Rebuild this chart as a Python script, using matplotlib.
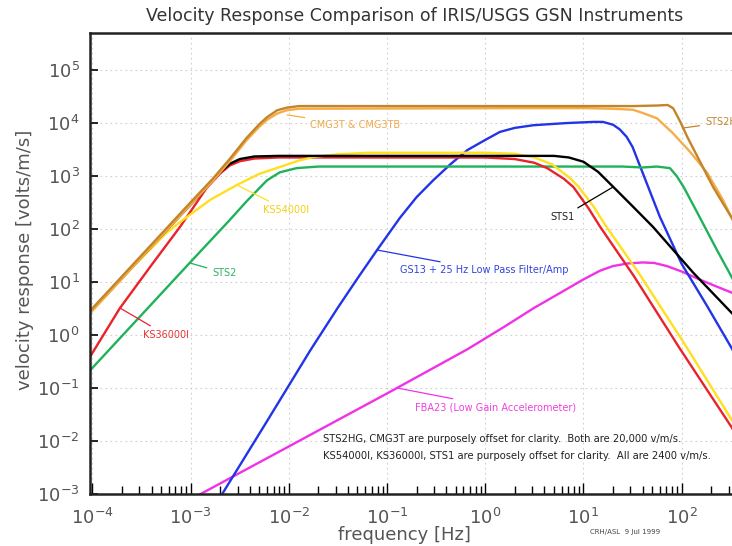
import matplotlib
matplotlib.use("Agg")
import matplotlib.pyplot as plt
from matplotlib.ticker import FixedLocator, NullFormatter

# responses [Hz] -> [volts/m/s]
sts2hg_f = [9.3e-5, 1e-4, 1e-3, 1.7e-3, 2.5e-3, 3.7e-3, 5.0e-3, 6.0e-3, 7.6e-3, 9.5e-3, 0.0126,
            32, 56, 72, 82, 97, 114, 155, 209, 324, 363]
sts2hg_v = [2.75, 3.2, 320, 910, 2100, 5200, 9500, 12900, 17400, 19500, 20900,
            20900, 21400, 21900, 19000, 10500, 5500, 1820, 620, 162, 112]

cmg3t_f = [9.3e-5, 1e-4, 1e-3, 1.7e-3, 2.5e-3, 3.7e-3, 5.0e-3, 6.0e-3, 7.6e-3, 9.5e-3, 0.0126,
           3.2, 10, 20, 32, 40, 56, 81, 123, 182, 263, 324, 363]
cmg3t_v = [2.5, 2.9, 290, 830, 1900, 4700, 8500, 11500, 15100, 17400, 18600,
           19100, 19100, 18600, 17800, 15500, 12300, 6500, 2800, 1150, 355, 162, 105]

sts1_f = [9.3e-5, 1e-4, 1e-3, 1.26e-3, 1.58e-3, 2.0e-3, 2.5e-3, 3.16e-3, 4.47e-3, 7.9e-3,
          5.0, 7.1, 10, 14.1, 20, 31.6, 51, 132, 324, 363]
sts1_v = [2.6, 3.0, 290, 457, 741, 1175, 1700, 2090, 2340, 2400,
          2400, 2240, 1860, 1200, 630, 270, 110, 14.8, 2.6, 2.1]

ks36_f = [9.3e-5, 1.9e-4, 4.0e-4, 7.8e-4, 1.45e-3, 2.0e-3, 2.5e-3, 3.16e-3, 4.47e-3, 7.9e-3,
          1.0, 2.0, 3.16, 4.27, 6.3, 7.9, 11.2, 14.8, 32.4, 95.5, 324, 363]
ks36_v = [0.37, 3.2, 21, 110, 590, 1120, 1580, 1900, 2140, 2240,
          2240, 2090, 1780, 1410, 890, 620, 250, 110, 13.2, 0.56, 0.018, 0.0126]

ks54_f = [9.3e-5, 1e-4, 2.5e-4, 4.0e-4, 5.6e-4, 7.8e-4, 1.58e-3, 2.95e-3, 5.0e-3, 8.1e-3, 0.0126,
          0.0178, 0.0316, 0.063, 1.0, 2.0, 3.16, 4.8, 7.1, 8.9, 12.6, 16.6, 36.3, 107, 324, 363]
ks54_v = [2.5, 2.9, 18.2, 43.7, 83, 135, 355, 676, 1100, 1480, 1950,
          2290, 2570, 2750, 2750, 2630, 2240, 1660, 955, 630, 270, 120, 15.1, 0.68, 0.025, 0.018]

sts2_f = [9.3e-5, 1e-4, 1e-3, 2.5e-3, 3.7e-3, 5.0e-3, 6.0e-3, 8.1e-3, 0.012, 0.02,
          25, 40, 56, 76, 89, 105, 145, 229, 324, 363]
sts2_v = [0.21, 0.24, 24, 148, 331, 589, 832, 1175, 1410, 1510,
          1510, 1450, 1510, 1410, 1000, 617, 200, 40, 12.3, 8.3]

gs13_f = [2.0e-3, 6.3e-3, 0.0166, 0.0316, 0.05, 0.079, 0.135, 0.2, 0.295, 0.447, 0.66, 1.0, 1.41,
          2.0, 3.1, 6.8, 12.6, 15.8, 20, 23.4, 27.5, 31.6, 38, 60, 100, 182, 324, 363]
gs13_v = [8.7e-4, 0.0275, 0.52, 3.3, 11.7, 40, 162, 400, 830, 1700, 3100, 4800, 6800,
          8100, 9100, 10000, 10500, 10500, 9300, 7600, 5500, 3550, 1480, 170, 22, 3.5, 0.56, 0.38]

fba23_f = [1.2e-3, 0.01, 0.1, 0.66, 1.58, 3.1, 6.8, 10, 14.8, 20, 28.2, 40, 52.5, 70.8, 100,
           155, 224, 324, 363]
fba23_v = [9.5e-4, 7.9e-3, 0.079, 0.54, 1.45, 3.2, 7.4, 11.2, 16.4, 20, 22.4, 23.4, 22.9, 20, 15.8,
           11, 8.3, 6.3, 5.75]

x_ticks = [1e-4, 1e-3, 1e-2, 1e-1, 1e0, 1e1, 1e2]
y_ticks = [1e-3, 1e-2, 1e-1, 1e0, 1e1, 1e2, 1e3, 1e4, 1e5]

# curve: (freqs, values, line colour, text colour, label, text pos, point on curve)
curves = [
    (fba23_f, fba23_v, "#f032e6", "#f040e0", "FBA23 (Low Gain Accelerometer)", (0.193, 0.0438), (0.127, 0.1)),
    (gs13_f, gs13_v, "#2233e8", "#3344dd", "GS13 + 25 Hz Low Pass Filter/Amp", (0.136, 16.8), (0.0792, 40.2)),
    (sts2_f, sts2_v, "#1fb25a", "#30b060", "STS2", (1.66e-3, 14.8), (9.9e-4, 22.8)),
    (ks36_f, ks36_v, "#e8232a", "#e03535", "KS36000I", (3.28e-4, 1.0), (1.91e-4, 3.23)),
    (ks54_f, ks54_v, "#ffe020", "#f0d010", "KS54000I", (5.47e-3, 228), (2.98e-3, 676)),
    (sts1_f, sts1_v, "#000000", "#222222", "STS1", (4.58, 168), (20.0, 620)),
    (cmg3t_f, cmg3t_v, "#f5ad4a", "#f0a848", "CMG3T & CMG3TB", (0.0165, 9160), (0.0096, 14200)),
    (sts2hg_f, sts2hg_v, "#c4842a", "#c08830", "STS2HG", (173, 10400), (103, 8050)),
]

W, H = 732, 546
fig = plt.figure(figsize=(W / 100, H / 100), dpi=100)
# axes run past the right edge, as in the cropped original
ax = fig.add_axes([89.5 / W, 52 / H, 693.3 / W, 461 / H])
ax.set_xscale("log")
ax.set_yscale("log")
ax.set_xlim(10 ** -4.03, 10 ** 3.03)
ax.set_ylim(1e-3, 5e5)

for f, v, lc, tc, name, tpos, pt in curves:
    ax.plot(f, v, color=lc, lw=1.7, solid_joinstyle="round")
    ax.annotate(name, xy=pt, xytext=tpos, color=tc, fontsize=7, ha="left", va="center",
                arrowprops=dict(arrowstyle="-", color=lc, lw=0.9, shrinkA=2, shrinkB=0))

ax.xaxis.set_major_locator(FixedLocator(x_ticks))
ax.yaxis.set_major_locator(FixedLocator(y_ticks))
minor = [m * 10.0 ** k for k in range(-4, 3) for m in range(2, 10)]
ax.xaxis.set_minor_locator(FixedLocator(minor))
ax.yaxis.set_minor_locator(FixedLocator([]))
ax.xaxis.set_minor_formatter(NullFormatter())
ax.grid(True, which="major", ls=(0, (1.5, 3)), color="#cfcfcf", lw=0.8)

ax.tick_params(which="both", direction="in", colors="black", labelcolor="#555555", labelsize=13)
ax.tick_params(axis="y", which="major", length=6, width=1.2, pad=7)
ax.tick_params(axis="x", which="major", length=8, width=1, pad=10)
ax.tick_params(axis="x", which="minor", length=6, width=1)
for s in ["left", "bottom", "top"]:
    ax.spines[s].set_linewidth(1.8)
    ax.spines[s].set_color("#222222")

fig.text(415 / W, 1 - 16 / H, "Velocity Response Comparison of IRIS/USGS GSN Instruments",
         ha="center", va="center", fontsize=12.5, color="#333333")
fig.text(404 / W, 1 - 535 / H, "frequency [Hz]", ha="center", va="center", fontsize=13, color="#555555")
fig.text(25 / W, 1 - 260 / H, "velocity response [volts/m/s]", ha="center", va="center",
         rotation=90, fontsize=13, color="#555555")

fig.text(323 / W, 1 - 439 / H,
         "STS2HG, CMG3T are purposely offset for clarity.  Both are 20,000 v/m/s.",
         ha="left", va="center", fontsize=7.2, color="#222222")
fig.text(323 / W, 1 - 456 / H,
         "KS54000I, KS36000I, STS1 are purposely offset for clarity.  All are 2400 v/m/s.",
         ha="left", va="center", fontsize=7.2, color="#222222")
fig.text(590 / W, 1 - 532 / H, "CRH/ASL  9 Jul 1999", ha="left", va="center", fontsize=5, color="#444444")

fig.savefig("out.png", dpi=100)
